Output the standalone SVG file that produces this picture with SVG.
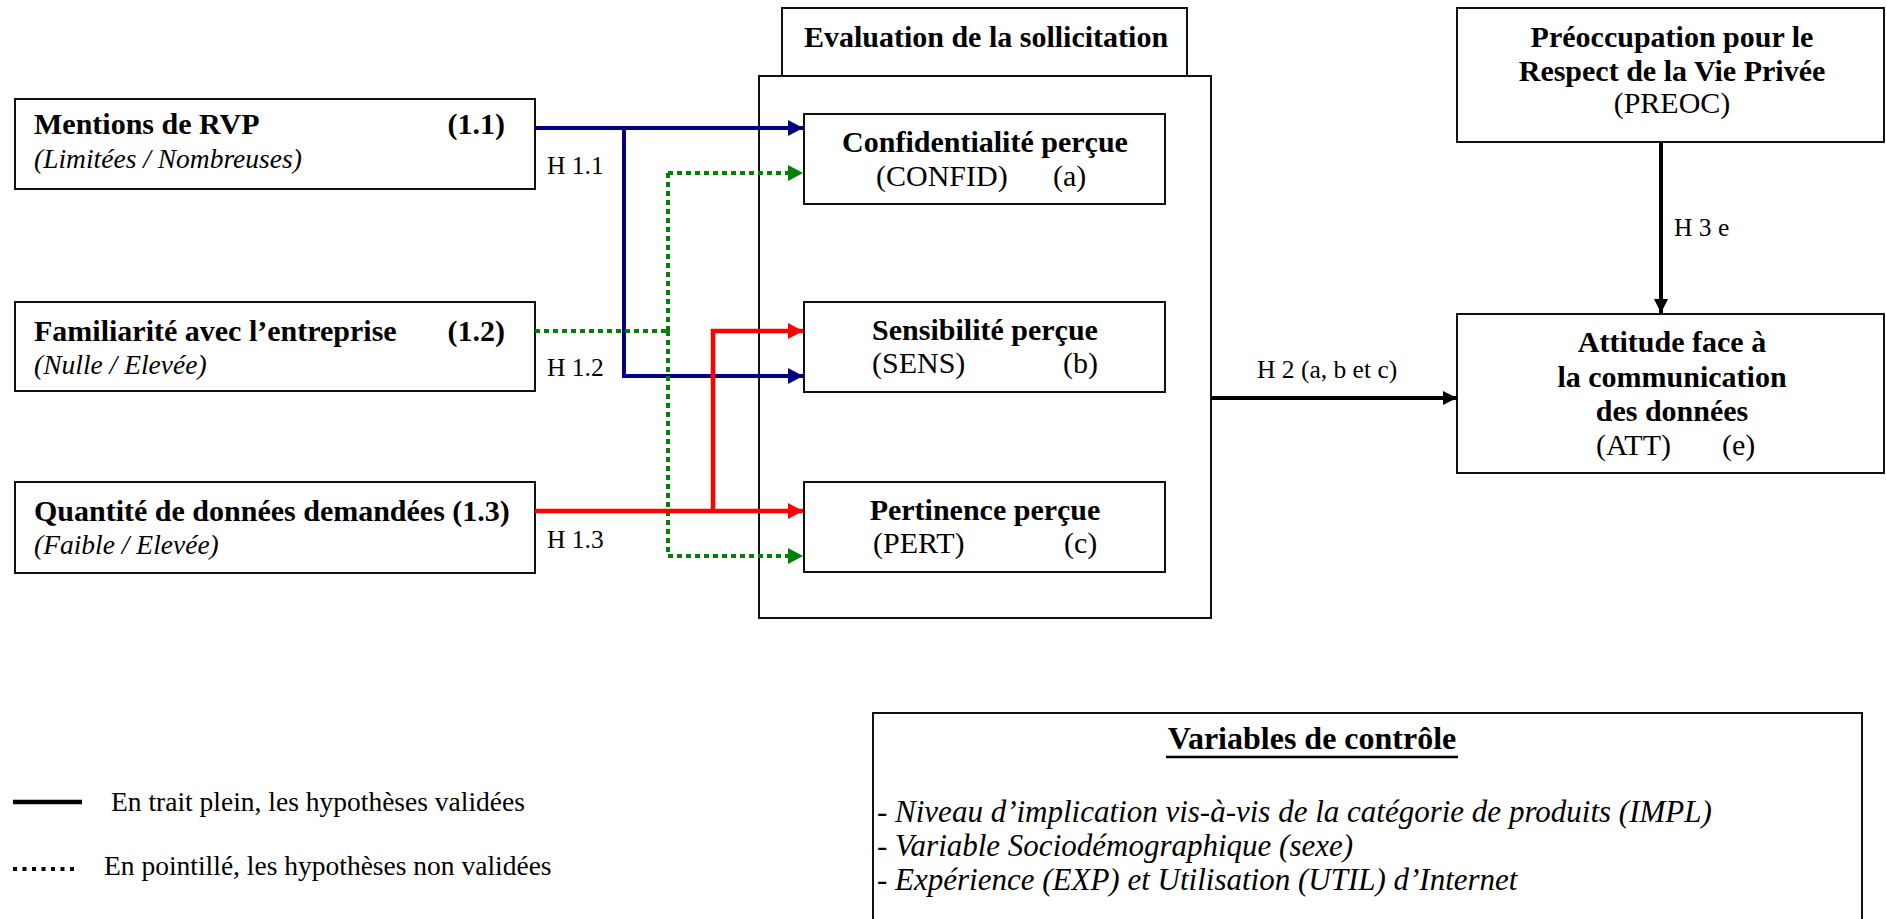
<svg xmlns="http://www.w3.org/2000/svg" width="1886" height="919" viewBox="0 0 1886 919">
<style>
  .box { fill: #ffffff; stroke: #111111; stroke-width: 2; }
  .b { font-family: "Liberation Serif", "Times New Roman", serif; font-weight: bold; font-size: 30px; fill: #000; }
  .r { font-family: "Liberation Serif", "Times New Roman", serif; font-size: 30px; fill: #000; }
  .i { font-family: "Liberation Serif", "Times New Roman", serif; font-style: italic; font-size: 27.5px; fill: #000; }
  .iv { font-family: "Liberation Serif", "Times New Roman", serif; font-style: italic; font-size: 31px; fill: #000; }
  .bv { font-family: "Liberation Serif", "Times New Roman", serif; font-weight: bold; font-size: 32px; fill: #000; }
  .h { font-family: "Liberation Serif", "Times New Roman", serif; font-size: 25.5px; fill: #000; }
  .lg { font-family: "Liberation Serif", "Times New Roman", serif; font-size: 27.5px; fill: #000; }
  .blue { stroke: #000080; stroke-width: 4; fill: none; }
  .red { stroke: #ff0000; stroke-width: 4.5; fill: none; }
  .green { stroke: #008000; stroke-width: 4; fill: none; stroke-dasharray: 5 4; }
  .blk { stroke: #000; stroke-width: 4; fill: none; }
</style>
<defs>
  <marker id="aBlue" markerUnits="userSpaceOnUse" markerWidth="15" markerHeight="16" refX="15" refY="8" orient="auto"><path d="M0,0 L15,8 L0,16 z" fill="#000080"/></marker>
  <marker id="aRed" markerUnits="userSpaceOnUse" markerWidth="15" markerHeight="16" refX="15" refY="8" orient="auto"><path d="M0,0 L15,8 L0,16 z" fill="#ff0000"/></marker>
  <marker id="aGreen" markerUnits="userSpaceOnUse" markerWidth="15" markerHeight="16" refX="15" refY="8" orient="auto"><path d="M0,0 L15,8 L0,16 z" fill="#008000"/></marker>
  <marker id="aBlk" markerUnits="userSpaceOnUse" markerWidth="14" markerHeight="14" refX="14" refY="7" orient="auto"><path d="M0,0 L14,7 L0,14 z" fill="#000"/></marker>
</defs>

<g id="eval-container">
  <rect class="box" x="759" y="76" width="452" height="542"/>
</g>
<g id="eval-title">
  <rect class="box" x="782" y="8" width="405" height="68"/>
  <text class="b" x="986" y="47" text-anchor="middle">Evaluation de la sollicitation</text>
</g>

<g id="n11">
  <rect class="box" x="15" y="99" width="520" height="90"/>
  <text class="b" x="34" y="134">Mentions de RVP</text>
  <text class="b" x="505" y="134" text-anchor="end">(1.1)</text>
  <text class="i" x="34" y="168">(Limitées / Nombreuses)</text>
</g>
<g id="n12">
  <rect class="box" x="15" y="302" width="520" height="89"/>
  <text class="b" x="34" y="341">Familiarité avec l’entreprise</text>
  <text class="b" x="505" y="341" text-anchor="end">(1.2)</text>
  <text class="i" x="34" y="374">(Nulle / Elevée)</text>
</g>
<g id="n13">
  <rect class="box" x="15" y="482" width="520" height="91"/>
  <text class="b" x="34" y="521">Quantité de données demandées (1.3)</text>
  <text class="i" x="34" y="554">(Faible / Elevée)</text>
</g>

<g id="confid">
  <rect class="box" x="804" y="114" width="361" height="90"/>
  <text class="b" x="985" y="152" text-anchor="middle">Confidentialité perçue</text>
  <text class="r" x="876" y="186">(CONFID)</text>
  <text class="r" x="1053" y="186">(a)</text>
</g>
<g id="sens">
  <rect class="box" x="804" y="302" width="361" height="90"/>
  <text class="b" x="985" y="340" text-anchor="middle">Sensibilité perçue</text>
  <text class="r" x="872" y="373">(SENS)</text>
  <text class="r" x="1063" y="373">(b)</text>
</g>
<g id="pert">
  <rect class="box" x="804" y="482" width="361" height="90"/>
  <text class="b" x="985" y="520" text-anchor="middle">Pertinence perçue</text>
  <text class="r" x="873" y="553">(PERT)</text>
  <text class="r" x="1064" y="553">(c)</text>
</g>

<g id="preoc">
  <rect class="box" x="1457" y="8" width="427" height="134"/>
  <text class="b" x="1672" y="47" text-anchor="middle">Préoccupation pour le</text>
  <text class="b" x="1672" y="81" text-anchor="middle">Respect de la Vie Privée</text>
  <text class="r" x="1672" y="113" text-anchor="middle">(PREOC)</text>
</g>
<g id="att">
  <rect class="box" x="1457" y="314" width="427" height="159"/>
  <text class="b" x="1672" y="352" text-anchor="middle">Attitude face à</text>
  <text class="b" x="1672" y="387" text-anchor="middle">la communication</text>
  <text class="b" x="1672" y="421" text-anchor="middle">des données</text>
  <text class="r" x="1596" y="455">(ATT)</text>
  <text class="r" x="1722" y="455">(e)</text>
</g>

<g id="connectors">
  <path class="blue" d="M535,128 H803" marker-end="url(#aBlue)"/>
  <path class="blue" d="M624,128 V376 H803" marker-end="url(#aBlue)"/>
  <path class="green" d="M535,331 H668"/>
  <path class="green" d="M668,331 V173"/>
  <path class="green" d="M668,331 V556"/>
  <path class="green" d="M668,173 H803" marker-end="url(#aGreen)"/>
  <path class="green" d="M668,556 H803" marker-end="url(#aGreen)"/>
  <path class="red" d="M535,511 H803" marker-end="url(#aRed)"/>
  <path class="red" d="M713,511 V331 H803" marker-end="url(#aRed)"/>
  <path class="blk" d="M1211,398 H1457" marker-end="url(#aBlk)"/>
  <path class="blk" d="M1661,143 V313" marker-end="url(#aBlk)"/>
  <text class="h" x="547" y="174">H 1.1</text>
  <text class="h" x="547" y="376">H 1.2</text>
  <text class="h" x="547" y="548">H 1.3</text>
  <text class="h" x="1257" y="378">H 2 (a, b et c)</text>
  <text class="h" x="1674" y="236">H 3 e</text>
</g>

<g id="controls">
  <rect class="box" x="873" y="713" width="989" height="230"/>
  <text class="bv" x="1312" y="749" text-anchor="middle">Variables de contrôle</text>
  <line x1="1166" y1="757" x2="1458" y2="757" stroke="#000" stroke-width="2.5"/>
  <text class="iv" x="877" y="822">- Niveau d’implication vis-à-vis de la catégorie de produits (IMPL)</text>
  <text class="iv" x="877" y="856">- Variable Sociodémographique (sexe)</text>
  <text class="iv" x="877" y="890">- Expérience (EXP) et Utilisation (UTIL) d’Internet</text>
</g>

<g id="legend">
  <line x1="13" y1="802" x2="82" y2="802" stroke="#000" stroke-width="4.5"/>
  <text class="lg" x="111" y="811">En trait plein, les hypothèses validées</text>
  <line x1="13" y1="869" x2="76" y2="869" stroke="#000" stroke-width="4" stroke-dasharray="4 5.5"/>
  <text class="lg" x="104" y="875">En pointillé, les hypothèses non validées</text>
</g>
</svg>
